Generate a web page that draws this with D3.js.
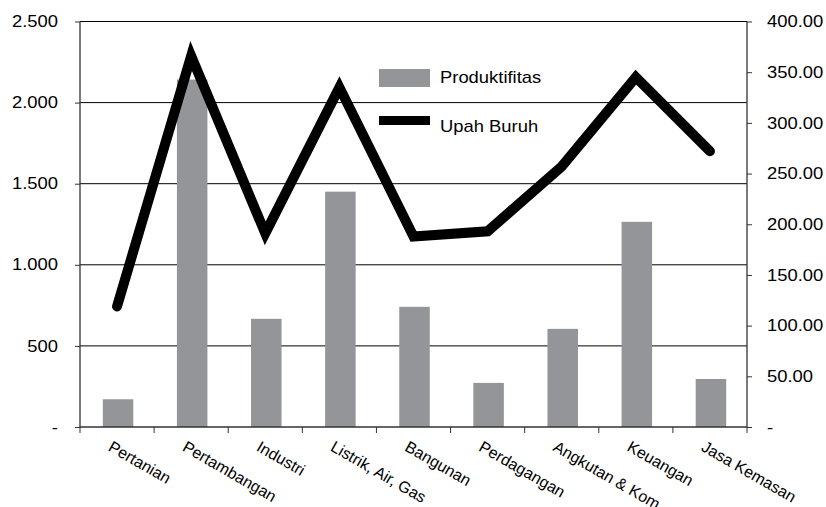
<!DOCTYPE html>
<html>
<head>
<meta charset="utf-8">
<script src="https://cdn.jsdelivr.net/npm/d3@7"></script>
<style>
body { margin: 0; background: #fff; }
svg text { font-family: "Liberation Sans", Arial, sans-serif; fill: #000; }
</style>
</head>
<body>
<svg width="826" height="507"></svg>
<script>
var categories = ["Pertanian", "Pertambangan", "Industri", "Listrik, Air, Gas", "Bangunan",
  "Perdagangan", "Angkutan & Kom", "Keuangan", "Jasa Kemasan"];
var produktifitas = [171, 2142, 667, 1451, 741, 272, 605, 1265, 296];
var upahBuruh = [119, 366, 191, 335, 188, 193, 257, 345, 272];
var leftTicks = [0, 500, 1000, 1500, 2000, 2500];
var rightTicks = [0, 50, 100, 150, 200, 250, 300, 350, 400];

var svg = d3.select("svg"),
  plotL = 80, plotR = 747, plotT = 21.5, plotB = 427,
  sx = 1.15; // text in the picture is a bit wider than normal

var x = d3.scaleBand().domain(categories).range([plotL, plotR]);
var yL = d3.scaleLinear().domain([0, 2500]).range([plotB, plotT]);
var yR = d3.scaleLinear().domain([0, 400]).range([plotB, plotT]);

var loc = d3.formatLocale({decimal: ",", thousands: ".", grouping: [3], currency: ["", ""]});
var fmtL = loc.format(","), fmtR = d3.format(".2f");

// gridlines
svg.append("g").selectAll("line").data(leftTicks.slice(1)).enter().append("line")
  .attr("x1", plotL).attr("x2", plotR)
  .attr("y1", function(d) { return yL(d); }).attr("y2", function(d) { return yL(d); })
  .attr("stroke", "#000").attr("stroke-width", 1);

// bars
var bw = 30.5;
svg.append("g").selectAll("rect").data(produktifitas).enter().append("rect")
  .attr("x", function(d, i) { return x(categories[i]) + x.bandwidth() / 2 - bw / 2 + 1; })
  .attr("width", bw)
  .attr("y", function(d) { return yL(d); })
  .attr("height", function(d) { return plotB - yL(d); })
  .attr("fill", "#939598");

// axes
var axL = svg.append("g").attr("transform", "translate(" + plotL + ",0)")
  .call(d3.axisLeft(yL).tickValues(leftTicks).tickSize(5)
    .tickFormat(function(d) { return d === 0 ? "-" : fmtL(d); }));
var axR = svg.append("g").attr("transform", "translate(" + plotR + ",0)")
  .call(d3.axisRight(yR).tickValues(rightTicks).tickSize(5)
    .tickFormat(function(d) { return d === 0 ? "-" : fmtR(d); }));
var axX = svg.append("g").attr("transform", "translate(0," + plotB + ")");
axX.append("path").attr("class", "domain").attr("fill", "none");
axX.selectAll(".t").data(d3.range(categories.length + 1)).enter().append("line")
  .attr("x1", function(d) { return plotL + d * x.step(); })
  .attr("x2", function(d) { return plotL + d * x.step(); })
  .attr("y1", 0).attr("y2", 6).attr("stroke", "#333");

[axL, axR, axX].forEach(function(a) {
  a.select(".domain").attr("stroke", "#333").attr("stroke-width", 1.3);
  a.selectAll(".tick line").attr("stroke", "#333");
  a.selectAll("text").attr("font-size", 16).attr("font-family", "Liberation Sans, Arial, sans-serif");
});
axL.select(".domain").attr("d", "M0," + plotT + "V" + plotB);
axR.select(".domain").attr("d", "M0," + plotT + "V" + plotB);
axX.select(".domain").attr("d", "M" + plotL + ",0H" + plotR);
axL.selectAll(".tick text").attr("x", -22 / sx).attr("transform", "scale(" + sx + ",1)");
axR.selectAll(".tick text").attr("x", 20 / sx).attr("transform", "scale(" + sx + ",1)");

// category labels
svg.append("g").selectAll("text").data(categories).enter().append("text")
  .attr("transform", function(d) {
    return "translate(" + (x(d) + x.bandwidth() / 2 - 4) + ",440) rotate(30)";
  })
  .attr("dy", "0.72em")
  .attr("font-size", 16)
  .text(function(d) { return d; });

// line
var line = d3.line()
  .x(function(d, i) { return x(categories[i]) + x.bandwidth() / 2; })
  .y(function(d) { return yR(d); });
svg.append("path").datum(upahBuruh)
  .attr("d", line)
  .attr("fill", "none").attr("stroke", "#000").attr("stroke-width", 10)
  .attr("stroke-linejoin", "miter").attr("stroke-miterlimit", 10).attr("stroke-linecap", "round");

// legend
var lg = svg.append("g");
lg.append("rect").attr("x", 379).attr("y", 69).attr("width", 51).attr("height", 18).attr("fill", "#939598");
lg.append("line").attr("x1", 379).attr("x2", 430).attr("y1", 120.5).attr("y2", 120.5)
  .attr("stroke", "#000").attr("stroke-width", 9);
lg.selectAll("text").data(["Produktifitas", "Upah Buruh"]).enter().append("text")
  .attr("transform", function(d, i) { return "translate(440," + (83 + i * 49) + ") scale(" + sx + ",1)"; })
  .attr("font-size", 16)
  .text(function(d) { return d; });
</script>
</body>
</html>
